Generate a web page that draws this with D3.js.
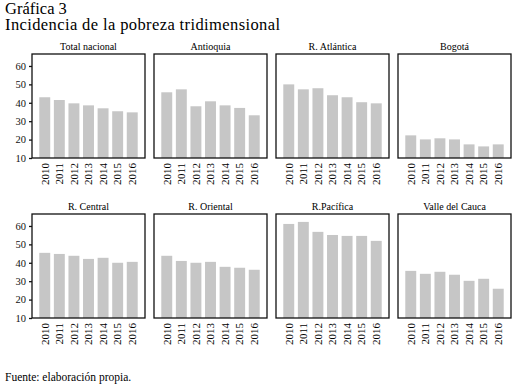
<!DOCTYPE html>
<html>
<head>
    <meta charset="UTF-8">
    <script src="https://d3js.org/d3.v7.min.js"></script>
</head>
<body style="margin:0">
    <script>
        var w = 522;
        var h = 387;
        var FONT = "'Liberation Serif', 'Times New Roman', Times";

        var years = ["2010", "2011", "2012", "2013", "2014", "2015", "2016"];
        var regions = ["Total nacional", "Antioquia", "R. Atlántica", "Bogotá",
                       "R. Central", "R. Oriental", "R.Pacífica", "Valle del Cauca"];

        // one array per panel
        var totalNacional = [43.0, 41.5, 39.7, 38.6, 37.0, 35.4, 34.8];
        var antioquia     = [45.7, 47.3, 38.1, 40.8, 38.6, 37.2, 33.2];
        var rAtlantica    = [50.0, 47.3, 47.9, 44.1, 43.0, 40.3, 39.7];
        var bogota        = [22.3, 20.1, 20.7, 20.1, 17.4, 16.3, 17.4];
        var rCentral      = [45.4, 44.8, 43.8, 42.1, 42.7, 40.0, 40.5];
        var rOriental     = [43.8, 41.0, 40.0, 40.5, 37.8, 37.3, 36.2];
        var rPacifica     = [61.1, 62.2, 56.8, 55.1, 54.6, 54.6, 51.9];
        var valleCauca    = [35.6, 34.0, 35.1, 33.5, 30.2, 31.3, 25.9];
        var series = [totalNacional, antioquia, rAtlantica, bogota,
                      rCentral, rOriental, rPacifica, valleCauca];

        var yTicks = [10, 20, 30, 40, 50, 60];

        var panelW = 113, panelH = 104;
        var left0 = 32, colStep = 122;
        var top0 = 54, rowStep = 160;

        var svg = d3.select("body")
            .append("svg")
            .attr("width", w)
            .attr("height", h);

        // titles
        svg.append("text")
            .attr("x", 5).attr("y", 14)
            .style("font-family", FONT)
            .style("font-size", "16.5px")
            .text("Gráfica 3");
        svg.append("text")
            .attr("x", 5).attr("y", 29.5)
            .attr("textLength", 275)
            .attr("lengthAdjust", "spacing")
            .style("font-family", FONT)
            .style("font-size", "16.5px")
            .text("Incidencia de la pobreza tridimensional");

        var xScale = d3.scaleBand()
            .domain(years)
            .range([0, panelW])
            .paddingInner(0.25)
            .paddingOuter(0.5);

        var yScale = d3.scaleLinear()
            .domain([10, 66.5])
            .range([panelH, 0]);

        regions.forEach(function(name, i) {
            var col = i % 4, row = Math.floor(i / 4);
            var g = svg.append("g")
                .attr("transform", "translate(" + (left0 + col * colStep) + "," + (top0 + row * rowStep) + ")");

            g.selectAll("rect.bar")
                .data(series[i])
                .enter()
                .append("rect")
                .attr("class", "bar")
                .attr("x", function(d, j) { return xScale(years[j]); })
                .attr("y", function(d) { return yScale(d); })
                .attr("width", xScale.bandwidth())
                .attr("height", function(d) { return panelH - yScale(d); })
                .attr("fill", "#c6c6c6");

            // frame
            g.append("rect")
                .attr("width", panelW)
                .attr("height", panelH)
                .attr("fill", "none")
                .attr("stroke", "#111")
                .attr("stroke-width", 1.3);

            g.append("text")
                .attr("x", panelW / 2)
                .attr("y", -4.5)
                .attr("text-anchor", "middle")
                .style("font-family", FONT)
                .style("font-size", "10px")
                .text(name);

            // year labels, rotated
            g.selectAll("text.year")
                .data(years)
                .enter()
                .append("text")
                .attr("class", "year")
                .attr("transform", function(d) {
                    return "translate(" + (xScale(d) + xScale.bandwidth() / 2 + 3.8) + "," + (panelH + 5) + ") rotate(-90)";
                })
                .attr("text-anchor", "end")
                .style("font-family", FONT)
                .style("font-size", "11px")
                .text(function(d) { return d; });

            if (col === 0) {
                var axis = d3.axisLeft(yScale)
                    .tickValues(yTicks)
                    .tickSize(3)
                    .tickPadding(3);
                var ag = g.append("g").call(axis);
                ag.select(".domain").remove();
                ag.selectAll("line").attr("stroke", "#111").attr("stroke-width", 1.3);
                ag.selectAll("text")
                    .style("font-family", FONT)
                    .style("font-size", "10.5px")
                    .attr("fill", "#111");
            }
        });

        svg.append("text")
            .attr("x", 5).attr("y", 381)
            .style("font-family", FONT)
            .style("font-size", "11.5px")
            .text("Fuente: elaboración propia.");
    </script>
</body>
</html>
